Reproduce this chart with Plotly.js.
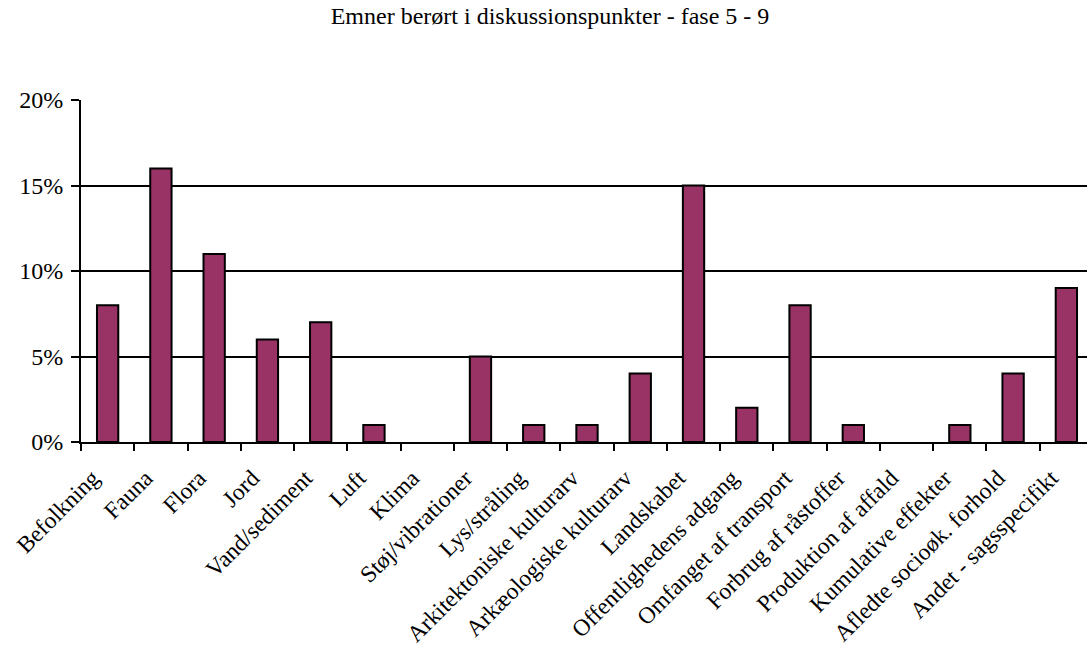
<!DOCTYPE html>
<html>
<head>
<meta charset="utf-8">
<script src="https://cdn.plot.ly/plotly-3.0.1.min.js"></script>
<style>
html,body{margin:0;padding:0;overflow:hidden;background:#fff;}
#chart{width:1100px;height:649px;}
</style>
</head>
<body>
<div id="chart"></div>
<script>
var categories = ["Befolkning","Fauna","Flora","Jord","Vand/sediment","Luft","Klima","Støj/vibrationer","Lys/stråling","Arkitektoniske kulturarv","Arkæologiske kulturarv","Landskabet","Offentlighedens adgang","Omfanget af transport","Forbrug af råstoffer","Produktion af affald","Kumulative effekter","Afledte socioøk. forhold","Andet - sagsspecifikt"];
var shares = [0.08,0.16,0.11,0.06,0.07,0.01,0.00,0.05,0.01,0.01,0.04,0.15,0.02,0.08,0.01,0.00,0.01,0.04,0.09];
var yTicks = [0,0.05,0.10,0.15,0.20];
var yTickLabels = ["0%","5%","10%","15%","20%"];
var titleText = "Emner berørt i diskussionspunkter - fase 5 - 9";

var font = "Liberation Serif, Times New Roman, serif";
var lineWidths = shares.map(function(v){ return v === 0 ? 0 : 2; });
Plotly.newPlot("chart", [{
  type: "bar",
  x: categories,
  y: shares,
  marker: {color: "#993366", line: {color: "#000000", width: lineWidths}},
  hoverinfo: "x+y"
}], {
  width: 1100, height: 649,
  margin: {l: 81, r: 7, t: 100, b: 207},
  paper_bgcolor: "#ffffff", plot_bgcolor: "#ffffff",
  bargap: 0.6,
  showlegend: false,
  title: {text: titleText, font: {family: font, size: 24, color: "#000"}, x: 0.5, xanchor: "center", y: 0.976, yref: "container", yanchor: "middle"},
  xaxis: {
    type: "category",
    tickangle: -45,
    ticks: "outside", tickson: "boundaries", ticklen: 7, tickwidth: 2, tickcolor: "#000",
    showline: true, linecolor: "#000", linewidth: 2,
    showgrid: false, zeroline: false,
    tickfont: {family: font, size: 23.5, color: "#000"},
    ticklabelstandoff: 11,
    ticklabelshift: -15,
    range: [-0.5, 18.5]
  },
  yaxis: {
    range: [0, 0.2],
    tickvals: yTicks, ticktext: yTickLabels,
    ticks: "outside", ticklen: 8, tickwidth: 2, tickcolor: "#000",
    showline: true, linecolor: "#000", linewidth: 2,
    showgrid: true, gridcolor: "#000", gridwidth: 2,
    zeroline: false,
    ticklabelstandoff: 3,
    tickfont: {family: font, size: 24, color: "#000"}
  }
}, {displayModeBar: false, staticPlot: true});
</script>
</body>
</html>
